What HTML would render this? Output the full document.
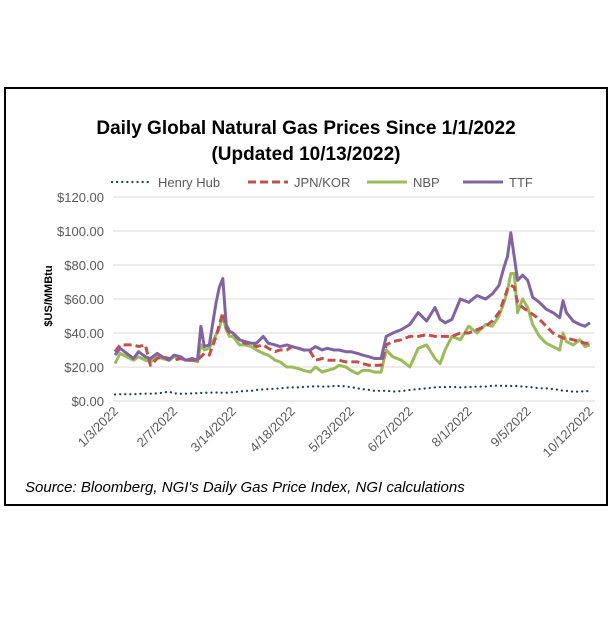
<!DOCTYPE html>
<html><head><meta charset="utf-8"><style>
body{margin:0;background:#fff;}
svg text{font-family:"Liberation Sans",Arial,sans-serif;}
</style></head><body>
<svg width="612" height="612" xmlns="http://www.w3.org/2000/svg">
<rect x="5" y="88" width="602" height="417" fill="#fff" stroke="#000" stroke-width="2"/>
<text x="306" y="134" text-anchor="middle" font-size="19" font-weight="bold">Daily Global Natural Gas Prices Since 1/1/2022</text>
<text x="306" y="160" text-anchor="middle" font-size="19" font-weight="bold">(Updated 10/13/2022)</text>
<g id="legend"></g>
<g id="grid"></g><g id="ylab"></g><g id="xlab"></g><g id="series"></g>
<text x="52" y="296" transform="rotate(-90 52 296)" text-anchor="middle" font-size="11" font-weight="bold">$US/MMBtu</text>
<text x="25" y="492" font-size="15" font-style="italic">Source: Bloomberg, NGI's Daily Gas Price Index, NGI calculations</text>
</svg>
<script>
const days=[0,3,7,11,14,18,21,25,28,32,35,39,42,46,49,51,53,56,60,62,64,66,68,70,74,77,81,84,88,91,95,98,102,105,109,112,116,119,123,126,130,133,137,140,144,147,151,154,158,161,163,165,170,175,180,185,190,193,196,200,205,210,215,220,224,228,231,233,235,237,239,242,245,248,252,256,260,264,266,268,272,276,279,282];
const ttf=[27,31,28,25,29,26,25,28,26,24,27,26,24,25,24,44,32,33,58,67,72,45,41,40,36,35,34,34,38,34,33,32,33,32,31,30,30,32,30,31,30,30,29,29,28,27,26,25,25,38,39,40,42,45,52,47,55,48,46,48,60,58,62,60,63,68,79,85,99,85,71,74,71,61,58,54,52,49,59,52,47,45,44,46];
const nbp=[22,28,26,24,26,24,23,26,25,24,26,25,24,24,23,33,30,31,39,43,50,42,38,38,33,33,32,30,28,27,24,23,20,20,19,18,17,20,17,18,19,21,20,18,16,18,18,17,17,30,28,26,24,20,31,33,25,22,30,38,36,44,40,45,44,50,58,65,75,75,52,60,55,45,38,34,32,30,40,35,33,36,32,33];
const jkm=[29,33,33,33,32,33,21,25,26,25,24,25,24,24,24,26,28,27,38,45,52,43,40,40,36,34,34,32,33,31,29,30,30,32,31,30,29,24,25,24,24,24,23,23,23,22,21,21,21,33,34,35,36,38,38,39,38,38,38,38,40,40,42,44,47,52,60,66,68,67,58,55,53,51,48,44,40,38,37,37,36,35,34,34];
const hh=[3.8,4,4,4,4.2,4.3,4.3,4.5,4.8,5.5,4.5,4.3,4.3,4.5,4.6,4.7,4.8,4.9,5,5,4.8,4.8,5,5.2,5.5,6,6,6.5,6.8,7,7.2,7.5,7.8,8,8,8.3,8.5,8.7,8.5,8.5,8.8,8.8,8.6,8.2,7.5,7,6.5,6,6,6,5.8,5.5,5.8,6.5,7,7.5,8,8.2,8.2,8.3,8,8.2,8.5,8.5,9,9,9,8.8,8.8,8.8,8.8,8.5,8.3,8,7.5,7.5,7,6.5,6,6,5.5,5.5,5.8,5.8];
const yTicks=[0,20,40,60,80,100,120];
const yTickLabels=["$0.00","$20.00","$40.00","$60.00","$80.00","$100.00","$120.00"];
const xTickDays=[0,35,70,105,140,175,210,245,282];
const xTickLabels=["1/3/2022","2/7/2022","3/14/2022","4/18/2022","5/23/2022","6/27/2022","8/1/2022","9/5/2022","10/12/2022"];
const NS="http://www.w3.org/2000/svg";
const X=d=>115+d*(475/282), Y=v=>401-v*1.7;
function mk(t,a,p){const e=document.createElementNS(NS,t);for(const k in a)e.setAttribute(k,a[k]);document.getElementById(p).appendChild(e);return e;}
yTicks.forEach((v,i)=>{
 const l=mk('line',{x1:113,x2:595,y1:Y(v),y2:Y(v),stroke:'#d9d9d9','stroke-width':1},'grid');
 
 
 const t=mk('text',{x:104,y:Y(v)+5,'text-anchor':'end','font-size':13,fill:'#595959'},'ylab');t.textContent=yTickLabels[i];
 
 
});
xTickDays.forEach((d,i)=>{
 const x=X(d)+4,y=412;
 const t=mk('text',{x:x,y:y,'text-anchor':'end','font-size':13,fill:'#595959',transform:`rotate(-45 ${x} ${y})`},'xlab');t.textContent=xTickLabels[i];
 
 
});
function line(vals,style,name){
 const pts=vals.map((v,i)=>X(days[i]).toFixed(1)+','+Y(v).toFixed(1)).join(' ');
 const p=mk('polyline',Object.assign({points:pts,fill:'none','stroke-linejoin':'round'},style),'series');
 
 
}
line(hh,{stroke:'#1f3b5c','stroke-width':2.2,'stroke-dasharray':'0.1 5','stroke-linecap':'round'},'henry-hub-line');
line(nbp,{stroke:'#9bbb59','stroke-width':3},'nbp-line');
line(jkm,{stroke:'#c0504d','stroke-width':3,'stroke-dasharray':'8 4'},'jpn-kor-line');
line(ttf,{stroke:'#8064a2','stroke-width':3},'ttf-line');
const leg=[["Henry Hub",{stroke:'#1f3b5c','stroke-width':2.2,'stroke-dasharray':'0.1 5','stroke-linecap':'round'},112],["JPN/KOR",{stroke:'#c0504d','stroke-width':3,'stroke-dasharray':'8 4'},248],["NBP",{stroke:'#9bbb59','stroke-width':3},367],["TTF",{stroke:'#8064a2','stroke-width':3},463]];
leg.forEach(([n,s,x])=>{
 const l=mk('line',Object.assign({x1:x,x2:x+40,y1:182,y2:182},s),'legend');
 
 
 const t=mk('text',{x:x+46,y:187,'font-size':13,fill:'#595959'},'legend');t.textContent=n;
 
 
});
</script>
</body></html>
